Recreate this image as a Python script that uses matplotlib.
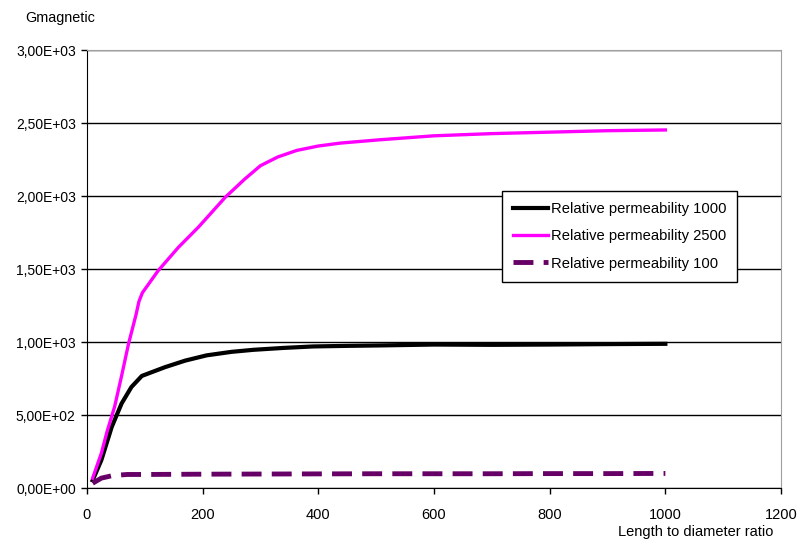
import matplotlib
matplotlib.use('Agg')
import matplotlib.pyplot as plt
from matplotlib.ticker import FuncFormatter

plt.rcParams['font.family'] = 'Liberation Sans'

# Relative permeability 1000
x_1000 = [10, 25, 43, 60, 77, 95, 135, 170, 207, 250, 288, 340, 391, 450, 507, 600, 700, 800, 900, 1000]
g_1000 = [55, 193, 421, 581, 694, 770, 830, 875, 911, 935, 949, 962, 972, 976, 979, 985, 983, 985, 988, 990]

# Relative permeability 2500
x_2500 = [10, 25, 35, 48, 60, 72, 85, 90, 96, 123, 158, 193, 239, 273, 300, 330, 363,
          400, 438, 507, 600, 700, 800, 900, 1000]
g_2500 = [70, 240, 390, 560, 770, 990, 1190, 1280, 1340, 1490, 1650, 1790, 1993, 2119,
          2210, 2270, 2315, 2345, 2365, 2388, 2415, 2430, 2440, 2450, 2455]

# Relative permeability 100
x_100 = [10, 25, 45, 70, 100, 200, 300, 400, 500, 600, 700, 800, 900, 1000]
g_100 = [35, 70, 88, 95, 95, 97, 98, 99, 100, 100, 100, 101, 101, 102]

x_ticks = [0, 200, 400, 600, 800, 1000, 1200]
y_ticks = [0, 500, 1000, 1500, 2000, 2500, 3000]


def excel_sci(v, pos):
    # 2500 -> 2,50E+03
    s = '%.2E' % v
    mant, exp = s.split('E')
    return mant.replace('.', ',') + 'E' + exp[0] + exp[1:].zfill(2)


fig = plt.figure(figsize=(7.97, 5.42), dpi=100)
ax = fig.add_axes([0.109, 0.099, 0.871, 0.808])

ax.plot(x_1000, g_1000, color='black', lw=3, solid_joinstyle='round',
        label='Relative permeability 1000')
ax.plot(x_2500, g_2500, color='#FF00FF', lw=2.4, solid_joinstyle='round',
        label='Relative permeability 2500')
ax.plot(x_100, g_100, color='#660066', lw=3.5, linestyle=(0, (4.1, 2.1)),
        dash_capstyle='butt', label='Relative permeability 100')

ax.set_xlim(0, 1200)
ax.set_ylim(0, 3000)
ax.set_xticks(x_ticks)
ax.set_yticks(y_ticks)
ax.yaxis.set_major_formatter(FuncFormatter(excel_sci))

ax.set_axisbelow(True)
ax.grid(axis='y', color='black', lw=1)
ax.spines['left'].set_color('black')
ax.spines['bottom'].set_color('black')
ax.spines['top'].set_color('#A0A0A0')
ax.spines['right'].set_color('#A0A0A0')
ax.tick_params(axis='y', direction='out', length=4, width=1, pad=4, labelsize=10)
ax.tick_params(axis='x', direction='out', length=4, width=1, pad=10, labelsize=10.5)

leg = ax.legend(loc='upper left', bbox_to_anchor=(0.598, 0.679), borderaxespad=0,
                fontsize=10.6, handlelength=2.4, handletextpad=0.15, labelspacing=0.9,
                borderpad=0.75, fancybox=False, framealpha=1, edgecolor='black')
leg.get_frame().set_linewidth(1)

fig.text(0.032, 0.967, 'Gmagnetic', fontsize=10.4, va='center', ha='left')
fig.text(0.775, 0.018, 'Length to diameter ratio', fontsize=10.5, va='center', ha='left')

plt.savefig('out.png', dpi=100)
